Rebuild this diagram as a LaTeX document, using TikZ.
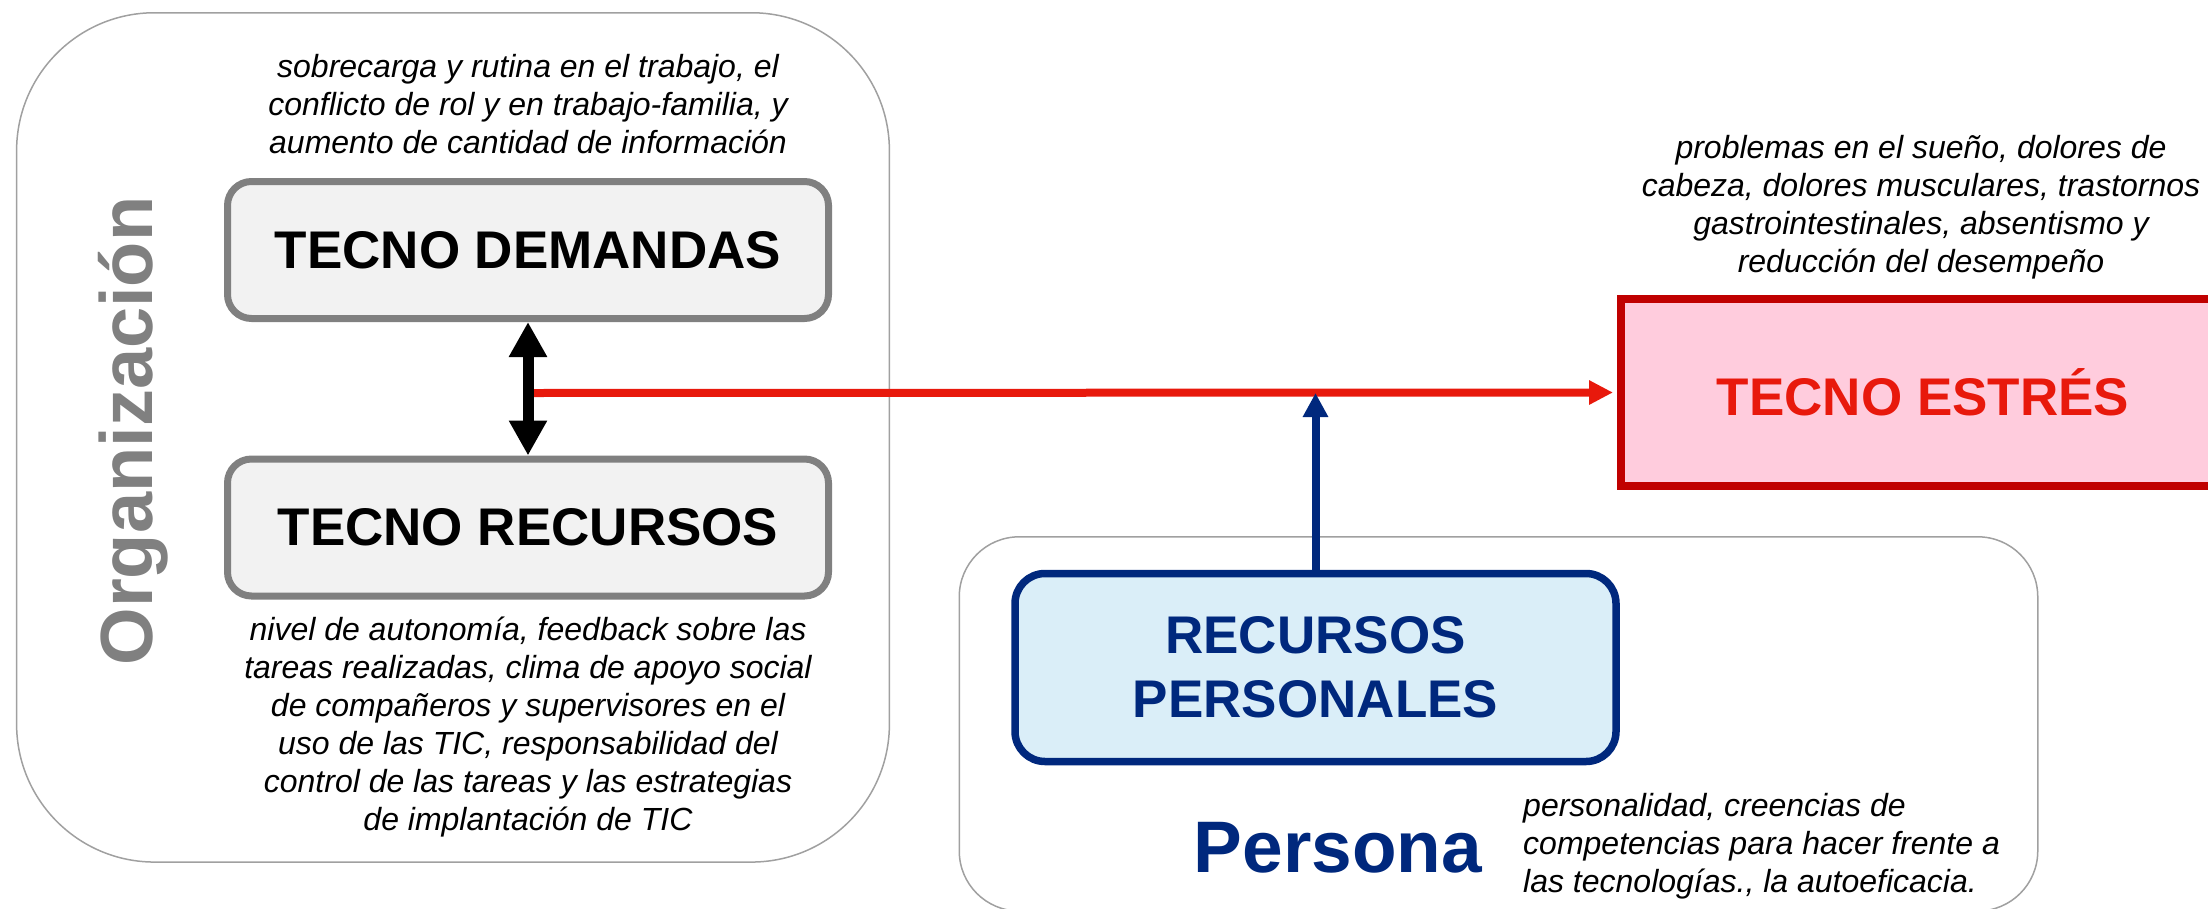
\documentclass[tikz,border=0pt]{standalone}
\usepackage{fontspec}
\setmainfont{Liberation Sans}
\usetikzlibrary{arrows.meta,calc}
\definecolor{navy}{HTML}{00287D}
\definecolor{dgray}{HTML}{808080}
\definecolor{lgray}{HTML}{A0A0A0}
\definecolor{boxfill}{HTML}{F2F2F2}
\definecolor{redc}{HTML}{E8190C}
\definecolor{darkred}{HTML}{C00000}
\definecolor{pinkfill}{HTML}{FFCCDD}
\definecolor{lblue}{HTML}{DAEEF8}
\begin{document}
\begin{tikzpicture}[x=1pt,y=-1pt,
  container/.style={draw=lgray, line width=1.5pt, inner sep=0pt},
  tbox/.style={draw=dgray, line width=7pt, fill=boxfill, rounded corners=24pt,
    minimum width=601pt, minimum height=137pt, inner sep=0pt,
    font=\fontsize{53}{64}\selectfont\bfseries},
  esbox/.style={draw=darkred, line width=8pt, fill=pinkfill, text=redc,
    minimum width=604pt, minimum height=187pt, inner sep=0pt,
    font=\fontsize{53}{64}\selectfont\bfseries},
  rpbox/.style={draw=navy, line width=7.5pt, fill=lblue, text=navy, rounded corners=30pt,
    minimum width=601pt, minimum height=188pt, inner sep=0pt, align=center,
    font=\fontsize{53}{64}\selectfont\bfseries},
  desc/.style={font=\fontsize{32}{38}\selectfont\itshape, align=center, inner sep=0pt},
]
\useasboundingbox (0,0) rectangle (2208,908);
% containers
\node[container, rounded corners=138pt, minimum width=872.8pt, minimum height=849.3pt] (org) at (453,437.4) {};
\node[container, rounded corners=60pt, minimum width=1078.5pt, minimum height=374.2pt] (per) at (1498.5,723.9) {};
% labels
\node[font=\fontsize{74}{80}\selectfont\bfseries, text=dgray, rotate=90, anchor=base, inner sep=0pt] (orglabel) at (152,431) {Organización};
\node[font=\fontsize{73}{80}\selectfont\bfseries, text=navy, anchor=base east, inner sep=0pt] (persona) at (1482,872) {Persona};
% boxes
\node[tbox] (td) at (528,250) {TECNO DEMANDAS};
\node[tbox] (tr) at (528,527.5) {TECNO RECURSOS};
\node[esbox] (es) at (1923,392.5) {TECNO ESTRÉS};
\node[rpbox] (rp) at (1315.5,667.5) {RECURSOS\\PERSONALES};
% descriptions
\node[desc] (tdtext) at (528,104) {sobrecarga y rutina en el trabajo, el\\conflicto de rol y en trabajo-familia, y\\aumento de cantidad de información};
\node[desc] (trtext) at (528,727) {nivel de autonomía, feedback sobre las\\tareas realizadas, clima de apoyo social\\de compañeros y supervisores en el\\uso de las TIC, responsabilidad del\\control de las tareas y las estrategias\\de implantación de TIC};
\node[desc] (estext) at (1921,207.5) {problemas en el sueño, dolores de\\cabeza, dolores musculares, trastornos\\gastrointestinales, absentismo y\\reducción del desempeño};
\node[desc, align=left, anchor=west] (ptext) at (1523,846) {personalidad, creencias de\\competencias para hacer frente a\\las tecnologías., la autoeficacia.};
% connectors
\coordinate (j) at (528,393);
\draw[redc, line width=8pt, -{Triangle[width=23pt,length=24pt]}] (j) -- ([xshift=-4pt]es.west);
\draw[black, line width=11pt, {Triangle[width=36pt,length=35pt]}-{Triangle[width=36pt,length=35pt]}] (td.south) -- (tr.north);
\draw[navy, line width=8pt, -{Triangle[width=24pt,length=24pt]}] (rp.north) -- (rp.north |- j);
\end{tikzpicture}
\end{document}
